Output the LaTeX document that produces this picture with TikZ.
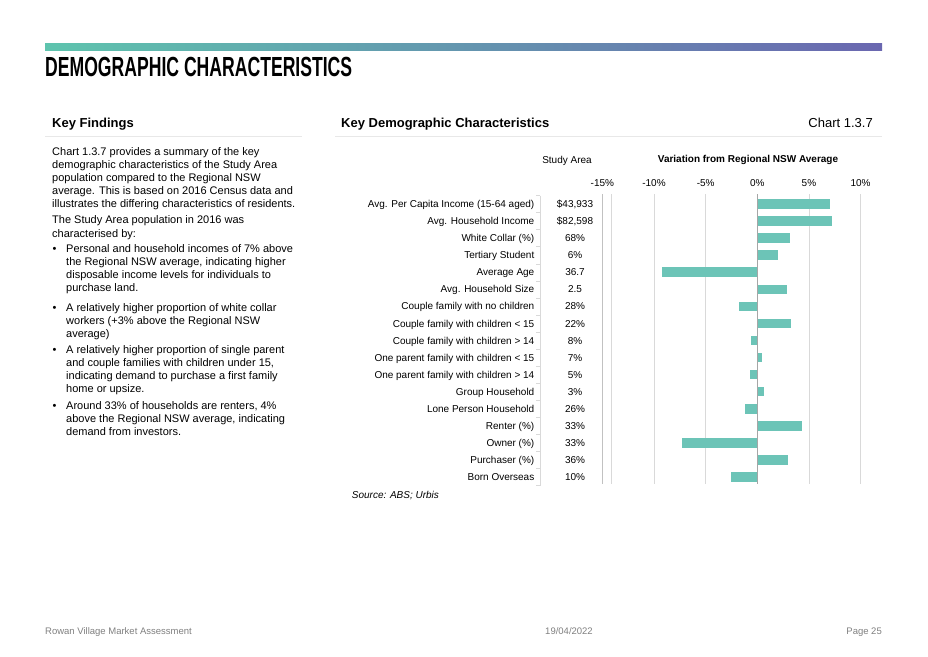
\documentclass[tikz,border=0pt]{standalone}
\usepackage{fontspec}
\setmainfont{Liberation Sans}
\definecolor{barteal}{HTML}{6CC4B7}
\definecolor{headteal}{HTML}{5EC4AE}
\definecolor{headblue}{HTML}{66AEE0}
\definecolor{headpurple}{HTML}{6A67B0}
\definecolor{gridgray}{HTML}{D9D9D9}
\definecolor{axisgray}{HTML}{A6A6A6}
\definecolor{footgray}{HTML}{7F7F7F}
\begin{document}
\begin{tikzpicture}[x=1pt,y=-1pt,
    body/.style={font=\fontsize{11}{13}\selectfont, inner sep=0pt, text height=7.9pt, text depth=0pt, anchor=west},
    head/.style={font=\fontsize{13}{15}\selectfont\bfseries, inner sep=0pt, text height=9.3pt, text depth=0pt, anchor=west},
    lbl/.style={font=\fontsize{10}{12}\selectfont, inner sep=0pt, text height=7.2pt, text depth=0pt},
    foot/.style={font=\fontsize{9.5}{11}\selectfont, text=footgray, inner sep=0pt, text height=6.8pt, text depth=0pt},
    bar/.style={fill=barteal}]
    \useasboundingbox (0,0) rectangle (928,656);
    % header
    \shade[left color=headteal, middle color=headblue, right color=headpurple] (45,43.5) rectangle (882,50);
    \node[anchor=north west, inner sep=0pt] (title) at (45,56.7) {\resizebox{307pt}{19.3pt}{\bfseries DEMOGRAPHIC CHARACTERISTICS}};
    \node[head] (kf) at (52,123.3) {Key Findings};
    \node[head] (kdc) at (341,123.3) {Key Demographic Characteristics};
    \node[head, font=\fontsize{13}{15}\selectfont, anchor=east] (chartno) at (873,123.3) {Chart 1.3.7};
    \draw[gridgray!60] (45,136.5) -- (302,136.5);
    \draw[gridgray!60] (335,136.5) -- (882,136.5);
    % left text
    \foreach \ln [count=\k] in {Chart 1.3.7 provides a summary of the key,
        demographic characteristics of the Study Area,
        population compared to the Regional NSW,
        average. This is based on 2016 Census data and,
        illustrates the differing characteristics of residents.}
        \node[body] (pa\k) at (52,{151.7+12.95*(\k-1)}) {\ln};
    \foreach \ln [count=\k] in {The Study Area population in 2016 was, characterised by:}
        \node[body] (pb\k) at (52,{220+13.2*(\k-1)}) {\ln};
    \foreach \y/\n in {248.3/1,307.3/2,350/3,406/4}
        \node[body] (dot\n) at (52.3,\y) {•};
    \foreach \ln [count=\k] in {Personal and household incomes of 7\% above,
        the Regional NSW average{,} indicating higher,
        disposable income levels for individuals to,
        purchase land.}
        \node[body] (ba\k) at (66,{248.3+13.1*(\k-1)}) {\ln};
    \foreach \ln [count=\k] in {A relatively higher proportion of white collar,
        workers (+3\% above the Regional NSW,
        average)}
        \node[body] (bb\k) at (66,{307.3+13*(\k-1)}) {\ln};
    \foreach \ln [count=\k] in {A relatively higher proportion of single parent,
        and couple families with children under 15{,},
        indicating demand to purchase a first family,
        home or upsize.}
        \node[body] (bc\k) at (66,{350+13*(\k-1)}) {\ln};
    \foreach \ln [count=\k] in {Around 33\% of households are renters{,} 4\%,
        above the Regional NSW average{,} indicating,
        demand from investors.}
        \node[body] (bd\k) at (66,{406+13*(\k-1)}) {\ln};
    % chart headings
    \node[lbl] (sa) at (567,160) {Study Area};
    \node[lbl, font=\fontsize{10}{12}\selectfont\bfseries] (var) at (748,159) {Variation from Regional NSW Average};
    % grid
    \draw[axisgray!70] (602.3,194.3) -- (602.3,484.3);
    \draw[gridgray] (610.7,194.3) -- (610.7,484.3);
    \foreach \p in {-10,-5,5,10}
        \draw[gridgray] ({757.3+10.33*\p},194.3) -- ({757.3+10.33*\p},484.3);
    \foreach \p in {-15,-10,-5,0,5,10}
        \node[lbl] (tick\p) at ({757.3+10.33*\p},183) {\p\%};
    % left axis with ticks
    \draw[gridgray] (540,195.5) -- (540,485.5);
    \foreach \k in {0,...,17}
        \draw[gridgray] (536,{195.5+17.06*\k}) -- (540,{195.5+17.06*\k});
    % rows
    \foreach \lab/\val/\var [count=\i] in {
        {Avg. Per Capita Income (15-64 aged)}/{\$43,933}/7.0,
        {Avg. Household Income}/{\$82,598}/7.2,
        {White Collar (\%)}/{68\%}/3.2,
        {Tertiary Student}/{6\%}/2.0,
        {Average Age}/{36.7}/-9.2,
        {Avg. Household Size}/{2.5}/2.9,
        {Couple family with no children}/{28\%}/-1.8,
        {Couple family with children < 15}/{22\%}/3.3,
        {Couple family with children > 14}/{8\%}/-0.65,
        {One parent family with children < 15}/{7\%}/0.45,
        {One parent family with children > 14}/{5\%}/-0.7,
        {Group Household}/{3\%}/0.6,
        {Lone Person Household}/{26\%}/-1.2,
        {Renter (\%)}/{33\%}/4.3,
        {Owner (\%)}/{33\%}/-7.3,
        {Purchaser (\%)}/{36\%}/3.0,
        {Born Overseas}/{10\%}/-2.5}{
        \pgfmathsetmacro{\ry}{204+17.06*(\i-1)}
        \node[lbl, anchor=east] (lab\i) at (534.5,\ry) {\lab};
        \node[lbl] (val\i) at (575,\ry) {\val};
        \fill[bar] (757.3,\ry-4.8) rectangle ({757.3+10.33*\var},\ry+4.8);
    }
    \draw[axisgray] (757.3,194.3) -- (757.3,484.3);
    \node[lbl, anchor=west, font=\fontsize{10}{12}\selectfont\itshape] (src) at (351.7,495) {Source: ABS; Urbis};
    % footer
    \node[foot, anchor=west] (fl) at (45,631) {Rowan Village Market Assessment};
    \node[foot] (fc) at (569,631) {19/04/2022};
    \node[foot, anchor=east] (fr) at (882,631) {Page 25};
\end{tikzpicture}
\end{document}
